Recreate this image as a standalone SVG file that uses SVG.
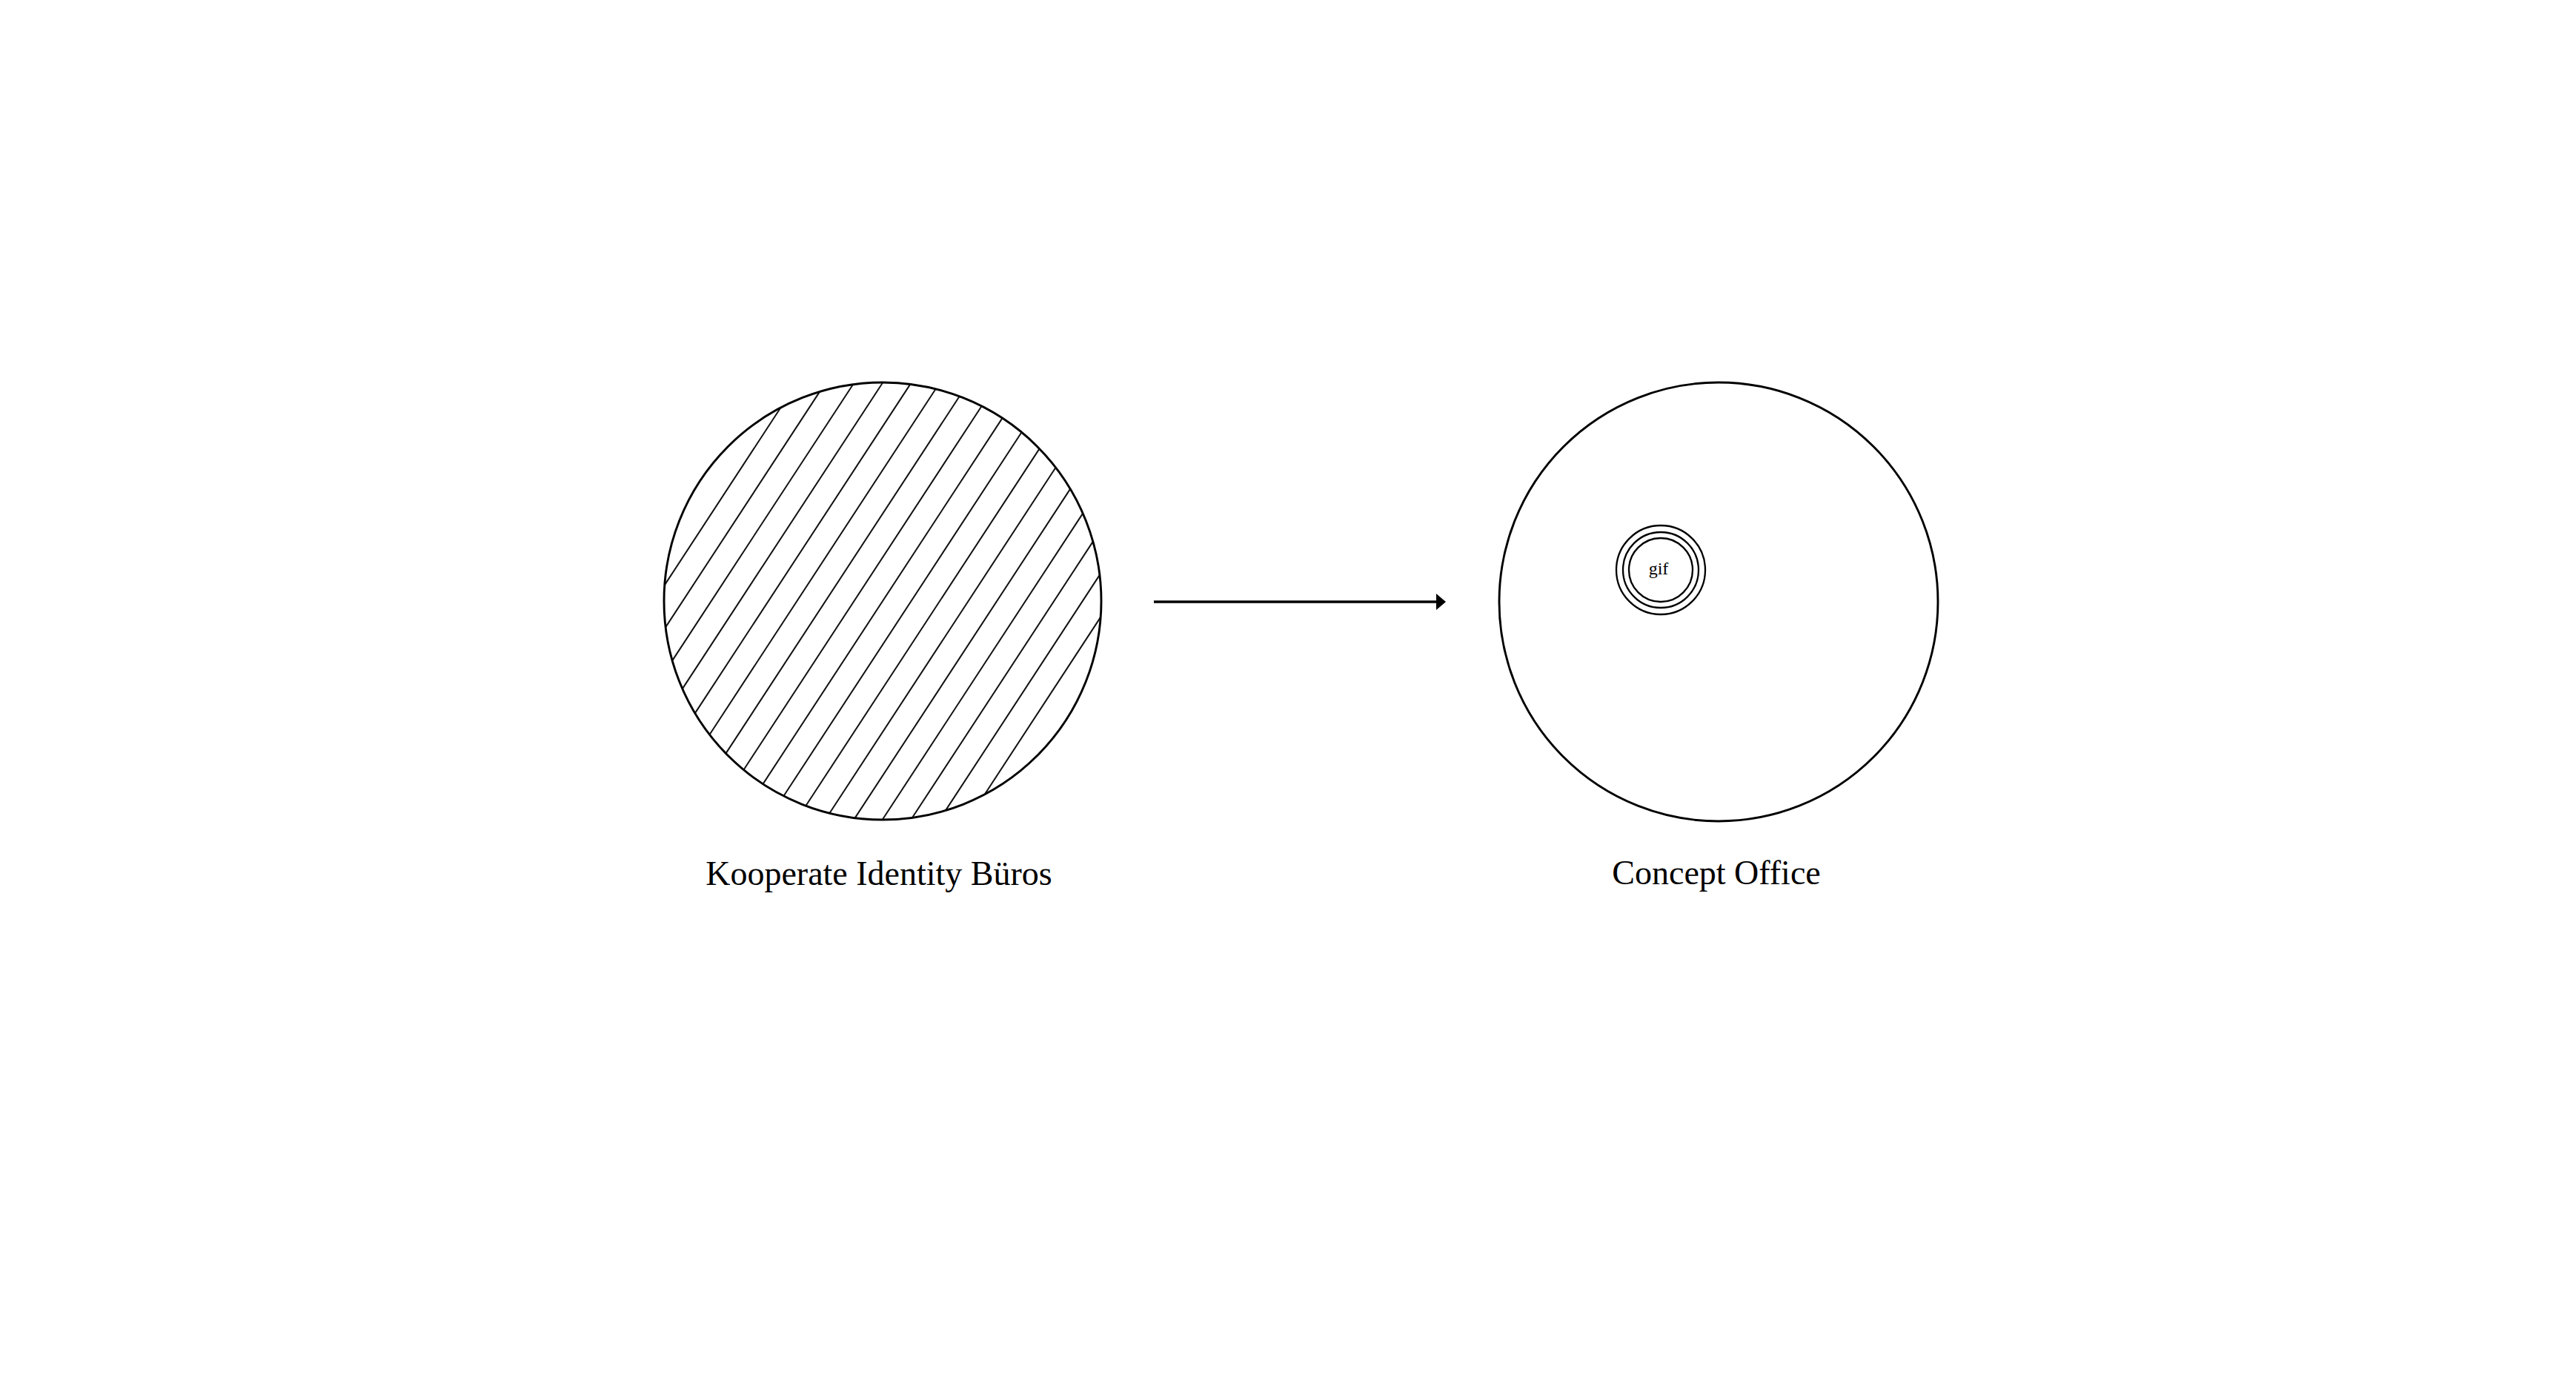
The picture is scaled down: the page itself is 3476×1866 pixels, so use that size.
<svg xmlns="http://www.w3.org/2000/svg" width="3476" height="1866" viewBox="0 0 3476 1866">
  <style>
    .outline { fill: none; stroke: #000; stroke-width: 2.9; }
    .ring { fill: none; stroke: #000; stroke-width: 2.3; }
    .hatch { stroke: #111; stroke-width: 2; fill: none; }
    .label { font-family: "Liberation Serif", "Times New Roman", serif; fill: #000; text-anchor: middle; }
    .conn { stroke: #000; stroke-width: 3.5; fill: none; }
  </style>
  <defs>
    <marker id="arrowhead" markerUnits="userSpaceOnUse" markerWidth="14" markerHeight="24" refX="2" refY="11" orient="auto">
      <path d="M0,0 L13,11 L0,22 Z" fill="#000"/>
    </marker>
  </defs>
  <rect x="0" y="0" width="3476" height="1866" fill="#fff"/>

  <g id="node-kooperate">
    <g transform="translate(1191 811) rotate(-56.8)" class="hatch">
      <line x1="-143" y1="-258" x2="143" y2="-258"/>
      <line x1="-190" y1="-225.75" x2="190" y2="-225.75"/>
      <line x1="-222.7" y1="-193.5" x2="222.7" y2="-193.5"/>
      <line x1="-247" y1="-161.25" x2="247" y2="-161.25"/>
      <line x1="-265.3" y1="-129" x2="265.3" y2="-129"/>
      <line x1="-278.7" y1="-96.75" x2="278.7" y2="-96.75"/>
      <line x1="-287.9" y1="-64.5" x2="287.9" y2="-64.5"/>
      <line x1="-293.2" y1="-32.25" x2="293.2" y2="-32.25"/>
      <line x1="-295" y1="0" x2="295" y2="0"/>
      <line x1="-293.2" y1="32.25" x2="293.2" y2="32.25"/>
      <line x1="-287.9" y1="64.5" x2="287.9" y2="64.5"/>
      <line x1="-278.7" y1="96.75" x2="278.7" y2="96.75"/>
      <line x1="-265.3" y1="129" x2="265.3" y2="129"/>
      <line x1="-247" y1="161.25" x2="247" y2="161.25"/>
      <line x1="-222.7" y1="193.5" x2="222.7" y2="193.5"/>
      <line x1="-190" y1="225.75" x2="190" y2="225.75"/>
      <line x1="-143" y1="258" x2="143" y2="258"/>
    </g>
    <circle class="outline" cx="1191" cy="811" r="295"/>
    <text class="label" x="1186" y="1194" font-size="46">Kooperate Identity Büros</text>
  </g>

  <g id="node-concept">
    <circle class="outline" cx="2319" cy="812" r="296"/>
    <text class="label" x="2316" y="1193" font-size="46">Concept Office</text>
  </g>

  <g id="node-gif">
    <circle class="ring" cx="2241" cy="769" r="60"/>
    <circle class="ring" cx="2241" cy="769" r="51"/>
    <circle class="ring" cx="2241" cy="769" r="43"/>
    <text class="label" x="2238" y="775" font-size="24">gif</text>
  </g>

  <g id="connectors">
    <line class="conn" x1="1557" y1="812" x2="1940" y2="812" marker-end="url(#arrowhead)"/>
  </g>
</svg>
